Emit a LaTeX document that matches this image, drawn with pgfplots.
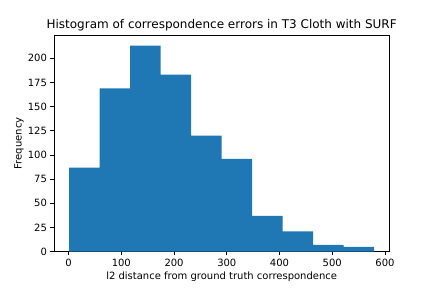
\documentclass[border=0pt]{standalone}
\usepackage{pgfplots}
\pgfplotsset{compat=1.18}
\usepackage{fontspec}
\setmainfont{DejaVu Sans}
\definecolor{mplblue}{HTML}{1F77B4}
\begin{document}
\begin{tikzpicture}
\useasboundingbox (0,0) rectangle (432pt,288pt);
\begin{axis}[
  at={(54pt,36.3pt)}, anchor=south west,
  scale only axis, width=335.3pt, height=216.7pt,
  xmin=-27.6, xmax=608.1, ymin=0, ymax=224.1,
  xtick={0,100,...,600}, ytick={0,25,...,200},
  tick align=outside, tick pos=left,
  major tick length=3.5pt,
  every tick/.style={black, line width=0.8pt},
  axis line style={line width=0.8pt},
  /pgf/number format/assume math mode=true,
  ticklabel style={font=\fontsize{10}{12}\selectfont},
  xticklabel style={yshift=-0.5pt},
  title={Histogram of correspondence errors in T3 Cloth with SURF},
  title style={at={(0.5,1)}, anchor=base, yshift=6pt, inner sep=0pt, font=\fontsize{12}{14}\selectfont},
  every axis title shift=0pt,
  xlabel={l2 distance from ground truth correspondence},
  ylabel={Frequency},
  label style={font=\fontsize{10}{12}\selectfont},
  xlabel style={at={(0.5,0)}, anchor=base, yshift=-28.3pt, inner sep=0pt},
  ylabel style={at={(0,0.5)}, anchor=base, yshift=32.4pt, inner sep=0pt},
]
\addplot[ybar interval, fill=mplblue, draw=none] coordinates {
  (1.3,87) (59.1,169) (116.9,213) (174.7,183) (232.5,120) (290.3,96)
  (348.1,37) (405.9,21) (463.7,7) (521.5,5) (579.3,5)
};
\end{axis}
\end{tikzpicture}
\end{document}
